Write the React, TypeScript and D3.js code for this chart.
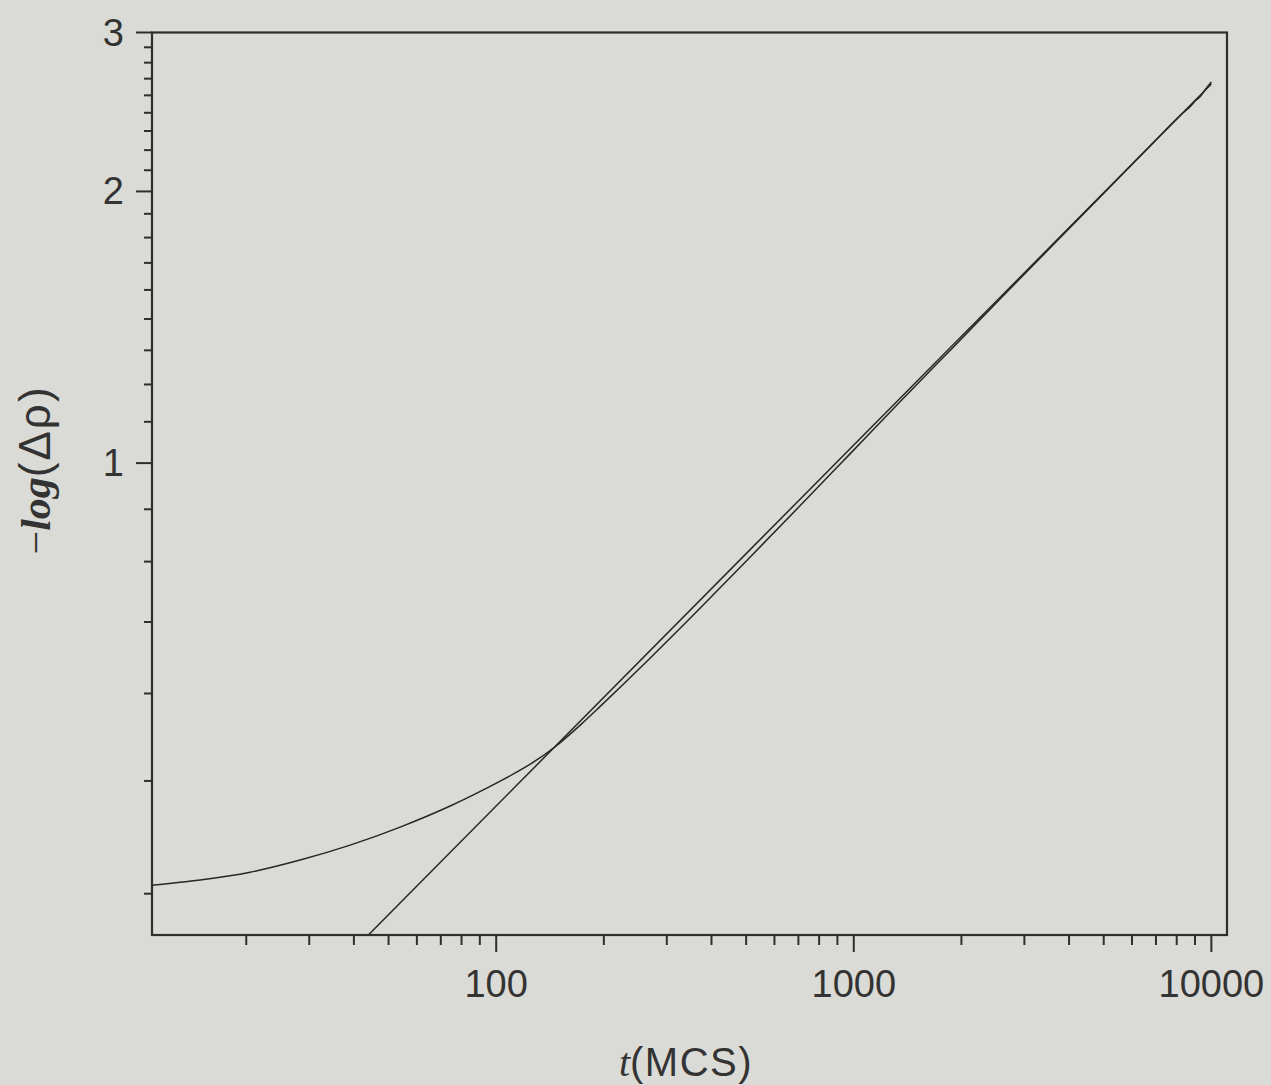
import React from 'react';
import * as d3 from 'd3';

const W = 1271;
const H = 1085;

// axis domains and ticks
const xDomain: [number, number] = [10.9, 11060];
const yDomain: [number, number] = [0.3, 3];
const xMajorTicks = [100, 1000, 10000];
const xTickLabels = ['100', '1000', '10000'];
const yMajorTicks = [1, 2, 3];
const yTickLabels = ['1', '2', '3'];
const yMinorPerMajor = 8;

// simulated data curve (t, -log Δρ)
const dataT = [10.9, 14.86, 20.5, 28.29, 39.04, 53.88, 74.35, 102.6, 124.5, 146.2, 171.8, 195.4, 269.7, 372.1, 513.4, 708.5, 977.7, 1349, 1862, 2569, 4893, 6752, 8191, 8733, 9023, 9316, 9621, 10000];
const dataY = [0.3406, 0.3451, 0.3521, 0.3632, 0.3773, 0.3951, 0.4169, 0.4442, 0.4638, 0.4850, 0.5125, 0.5376, 0.6083, 0.6909, 0.7870, 0.8974, 1.0245, 1.1699, 1.334, 1.5209, 1.973, 2.247, 2.428, 2.484, 2.521, 2.548, 2.594, 2.644];

// straight power-law fit (endpoints)
const fitT = [43.9, 10000];
const fitY = [0.3, 2.63];

const BG = '#dadbd6';
const INK = '#2e2e2e';

export default function App() {
  const left = 152, right = 1227, top = 32.5, bottom = 935;
  const x = d3.scaleLog().domain(xDomain).range([left, right]);
  const y = d3.scaleLog().domain(yDomain).range([bottom, top]);

  const xMinor: number[] = [];
  for (const d of [1, 10, 100, 1000]) {
    for (let k = 2; k <= 9; k++) {
      const v = d * k;
      if (v >= xDomain[0] && v <= xDomain[1] && !xMajorTicks.includes(v)) xMinor.push(v);
    }
  }
  const yMinor: number[] = [];
  for (const m of [0, 1, 2]) {
    for (let j = 1; j <= yMinorPerMajor; j++) {
      const v = m + j / (yMinorPerMajor + 1);
      if (v >= yDomain[0] && v <= yDomain[1]) yMinor.push(v);
    }
  }

  const dataPts = dataT.map((t, i) => [t, dataY[i]] as [number, number]);
  const fitPts = fitT.map((t, i) => [t, fitY[i]] as [number, number]);
  const line = d3.line<[number, number]>().x(d => x(d[0])).y(d => y(d[1])).curve(d3.curveCatmullRom.alpha(0.5));
  const straight = d3.line<[number, number]>().x(d => x(d[0])).y(d => y(d[1]));

  if (typeof document !== 'undefined') {
    document.body.style.margin = '0';
    document.body.style.background = BG;
  }

  return (
    <svg width={W} height={H} style={{ display: 'block', background: BG }} xmlns="http://www.w3.org/2000/svg">
      <defs>
        <clipPath id="plotclip">
          <rect x={left} y={top} width={right - left} height={bottom - top} />
        </clipPath>
      </defs>
      <rect x={0} y={0} width={W} height={H} fill={BG} />

      <g clipPath="url(#plotclip)" fill="none" stroke="#262626" strokeWidth={1.5}>
        <path d={straight(fitPts) || ''} />
        <path d={line(dataPts) || ''} />
      </g>

      {/* frame */}
      <rect x={left} y={top} width={right - left} height={bottom - top} fill="none" stroke={INK} strokeWidth={2.2} />

      {/* ticks */}
      <g stroke={INK} strokeWidth={2}>
        {xMajorTicks.map(v => (
          <line key={'xM' + v} x1={x(v)} x2={x(v)} y1={bottom} y2={bottom + 17} />
        ))}
        {xMinor.map(v => (
          <line key={'xm' + v} x1={x(v)} x2={x(v)} y1={bottom} y2={bottom + 10} />
        ))}
        {yMajorTicks.map(v => (
          <line key={'yM' + v} x1={left - 16} x2={left} y1={y(v)} y2={y(v)} />
        ))}
        {yMinor.map(v => (
          <line key={'ym' + v} x1={left - 8} x2={left} y1={y(v)} y2={y(v)} />
        ))}
      </g>

      <g fontFamily="'Liberation Sans', Arial, sans-serif" fontSize={38} fill="#333">
        {xMajorTicks.map((v, i) => (
          <text key={'xl' + v} x={x(v)} y={997} textAnchor="middle">{xTickLabels[i]}</text>
        ))}
        {yMajorTicks.map((v, i) => (
          <text key={'yl' + v} x={124} y={y(v) + 13} textAnchor="end">{yTickLabels[i]}</text>
        ))}
      </g>

      {/* axis titles */}
      <text x={686} y={1076} textAnchor="middle" fontSize={40} fill="#333" fontFamily="'Liberation Sans', Arial, sans-serif">
        <tspan fontFamily="'Liberation Serif', 'Times New Roman', serif" fontStyle="italic">t</tspan>
        <tspan letterSpacing={1.5}>(MCS)</tspan>
      </text>
      <text transform="translate(50,470) rotate(-90)" textAnchor="middle" fontSize={42} fill="#333" fontFamily="'Liberation Sans', Arial, sans-serif">
        <tspan fontFamily="'Liberation Serif', 'Times New Roman', serif">−</tspan>
        <tspan fontFamily="'Liberation Serif', 'Times New Roman', serif" fontStyle="italic" fontWeight="bold">log</tspan>
        <tspan fontSize={44} letterSpacing={2}>(Δρ)</tspan>
      </text>
    </svg>
  );
}
